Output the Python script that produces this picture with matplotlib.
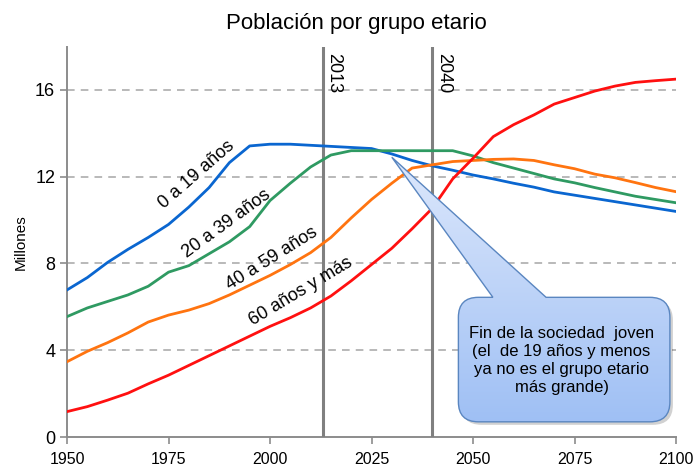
import numpy as np
import matplotlib
matplotlib.use("Agg")
import matplotlib.pyplot as plt
from matplotlib.path import Path
from matplotlib.patches import PathPatch

plt.rcParams['font.family'] = ['Liberation Sans Narrow', 'Liberation Sans', 'DejaVu Sans']

# datos (millones de personas, cada 5 anos)
years = list(range(1950, 2101, 5))
pop_0_19 = [6.78, 7.35, 8.05, 8.65, 9.2, 9.8, 10.6, 11.5, 12.65, 13.42, 13.5,
            13.5, 13.45, 13.4, 13.35, 13.3, 13.05, 12.75, 12.5, 12.3, 12.08,
            11.9, 11.7, 11.52, 11.3, 11.15, 11.0, 10.85, 10.7, 10.55, 10.4]
pop_20_39 = [5.55, 5.95, 6.25, 6.55, 6.95, 7.6, 7.9, 8.45, 9.0, 9.7, 10.9,
             11.7, 12.45, 13.0, 13.2, 13.2, 13.2, 13.2, 13.2, 13.2, 12.96,
             12.65, 12.4, 12.15, 11.9, 11.72, 11.5, 11.3, 11.1, 10.95, 10.8]
pop_40_59 = [3.47, 3.95, 4.35, 4.8, 5.3, 5.62, 5.85, 6.15, 6.55, 7.0, 7.45,
             7.95, 8.5, 9.2, 10.1, 10.95, 11.7, 12.4, 12.55, 12.7, 12.75,
             12.8, 12.82, 12.75, 12.55, 12.37, 12.12, 11.95, 11.73, 11.5, 11.31]
pop_60_mas = [1.17, 1.4, 1.7, 2.02, 2.45, 2.85, 3.3, 3.75, 4.2, 4.65, 5.1,
              5.5, 5.95, 6.5, 7.2, 7.95, 8.7, 9.6, 10.55, 11.9, 12.85,
              13.85, 14.4, 14.85, 15.35, 15.65, 15.95, 16.18, 16.35, 16.43, 16.5]

series_labels = ['0 a 19 años', '20 a 39 años', '40 a 59 años', '60 años y más']
series_colors = ['#0a66d0', '#2f9a62', '#ff7410', '#ff1010']
# posicion y angulo de las etiquetas sobre las curvas
label_pos = [(1982.0, 12.1, 41), (1989.2, 9.85, 36), (2000.5, 8.25, 32), (2007.5, 6.7, 31)]
mark_years = [2013, 2040]

fig = plt.figure(figsize=(6.93, 4.74), dpi=100)
ax = fig.add_axes([67 / 693, 37 / 474, 609 / 693, 390.4 / 474])

for vals, col in zip([pop_0_19, pop_20_39, pop_40_59, pop_60_mas], series_colors):
    ax.plot(years, vals, color=col, lw=2.0, zorder=4, solid_joinstyle='round')

for lab, (x, y, ang) in zip(series_labels, label_pos):
    ax.text(x, y, lab, rotation=ang, rotation_mode='anchor', ha='center', va='center',
            fontsize=13, zorder=6)

for yr in mark_years:
    ax.axvline(yr, color='#808080', lw=2.2, zorder=3)
    ax.text(yr + 0.6, 17.7, str(yr), rotation=270, ha='left', va='top', fontsize=13, zorder=6)

ax.set_xlim(1950, 2100)
ax.set_ylim(0, 18)
ax.set_xticks(range(1950, 2101, 25))
ax.set_yticks([0, 4, 8, 12, 16])
for yv in [4, 8, 12, 16]:
    ax.axhline(yv, color='#a6a6a6', lw=1.1, ls=(0, (5, 4)), zorder=1)
for s in ['top', 'right']:
    ax.spines[s].set_visible(False)
for s in ['left', 'bottom']:
    ax.spines[s].set_color('#8c8c8c')
    ax.spines[s].set_linewidth(1.4)
ax.tick_params(axis='both', colors='#8c8c8c', labelcolor='black', labelsize=13, length=5, width=1.2)
ax.tick_params(axis='x', pad=6, labelsize=11.5)
ax.set_ylabel('Millones', fontsize=11, labelpad=5)

ax.set_title('Población por grupo etario', fontsize=16, x=0.475, pad=13)

# globo de texto
fig.canvas.draw()
to_px = ax.transData.transform
to_data = ax.transData.inverted().transform
(bx0, by0), (bx1, by1) = to_px([(2046.4, 0.7), (2098.5, 6.44)])
tip = to_px([(2030.0, 12.9)])[0]
p1 = to_px([(2054.9, 6.44)])[0][0]
p2 = to_px([(2068.0, 6.44)])[0][0]
r = 20
verts = [(bx0 + r, by1), (p1, by1), tuple(tip), (p2, by1), (bx1 - r, by1),
         (bx1, by1), (bx1, by1 - r), (bx1, by0 + r), (bx1, by0), (bx1 - r, by0),
         (bx0 + r, by0), (bx0, by0), (bx0, by0 + r), (bx0, by1 - r), (bx0, by1),
         (bx0 + r, by1)]
codes = [Path.MOVETO, Path.LINETO, Path.LINETO, Path.LINETO, Path.LINETO,
         Path.CURVE3, Path.CURVE3, Path.LINETO, Path.CURVE3, Path.CURVE3,
         Path.LINETO, Path.CURVE3, Path.CURVE3, Path.LINETO, Path.CURVE3, Path.CURVE3]
verts = np.array(verts)
shadow = PathPatch(Path(to_data(verts + [3, -3]), codes), facecolor='#000000', alpha=0.18,
                   edgecolor='none', zorder=6)
ax.add_patch(shadow)
bubble = PathPatch(Path(to_data(verts), codes), facecolor='none', edgecolor='#5a86c0',
                   lw=1.0, zorder=8)
ax.add_patch(bubble)
grad = np.linspace(0, 1, 256).reshape(-1, 1)
cmap = matplotlib.colors.LinearSegmentedColormap.from_list('g', ['#dde8fc', '#9ebff4'])
img = ax.imshow(grad, cmap=cmap, aspect='auto', origin='upper',
                extent=[2025, 2100, 0.5, 13.0], zorder=7)
img.set_clip_path(bubble)
ax.set_xlim(1950, 2100)
ax.set_ylim(0, 18)

ax.text(2071.8, 3.55, 'Fin de la sociedad  joven\n(el  de 19 años y menos\nya no es el grupo etario\nmás grande)',
        ha='center', va='center', fontsize=12, linespacing=1.25, zorder=9)

fig.savefig('out.png', dpi=100)
